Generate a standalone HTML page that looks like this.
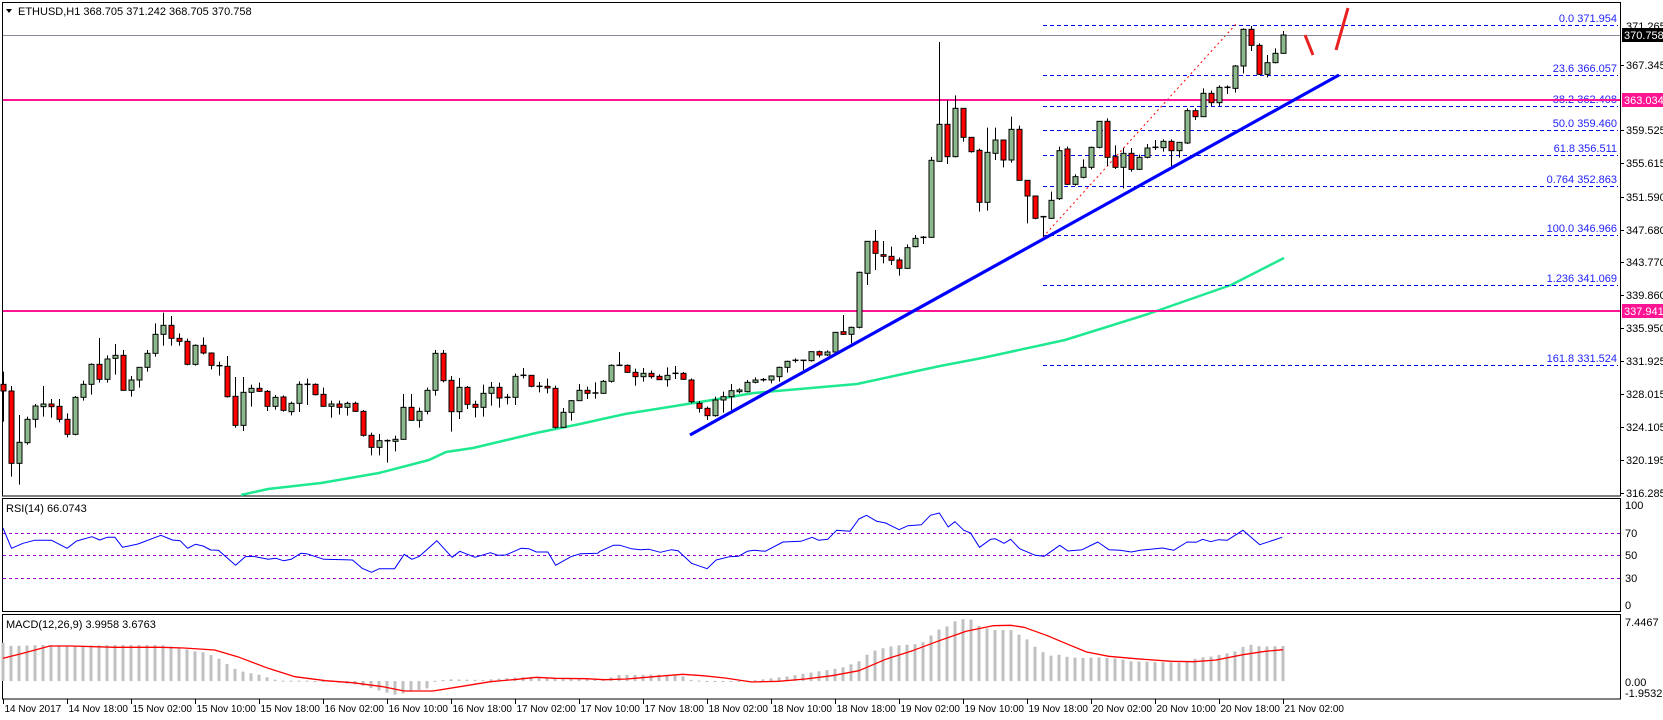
<!DOCTYPE html>
<html><head><meta charset="utf-8">
<style>
html,body{margin:0;padding:0;background:#fff;}
svg{display:block;}
text{font-family:"Liberation Sans",sans-serif;font-size:11px;}
text.t{font-size:10px;}
</style></head>
<body>
<svg id="c" width="1663" height="720" xmlns="http://www.w3.org/2000/svg">
<rect width="1663" height="720" fill="#fff"/>
</svg>
<script>
const S=document.getElementById('c');const NS='http://www.w3.org/2000/svg';
function el(t,a,txt){const e=document.createElementNS(NS,t);for(const k in a)e.setAttribute(k,a[k]);if(txt!==undefined)e.textContent=txt;S.appendChild(e);return e;}
function line(x1,y1,x2,y2,st,w,da){const a={x1,y1,x2,y2,stroke:st,'stroke-width':w||1};if(da)a['stroke-dasharray']=da;return el('line',a);}
function poly(pts,st,w,da){const a={points:pts.map(p=>p[0].toFixed(1)+','+p[1].toFixed(1)).join(' '),fill:'none',stroke:st,'stroke-width':w,'stroke-linejoin':'round'};if(da)a['stroke-dasharray']=da;return el('polyline',a);}
function interp(pts,x){if(x<=pts[0][0])return pts[0][1];for(let i=1;i<pts.length;i++){if(x<=pts[i][0]){const a=pts[i-1],b=pts[i];return a[1]+(b[1]-a[1])*(x-a[0])/(b[0]-a[0]);}}return pts[pts.length-1][1];}

el('rect',{x:2.5,y:2.5,width:1618,height:493.5,fill:'none',stroke:'#000'});
el('rect',{x:2.5,y:498.5,width:1618,height:113,fill:'none',stroke:'#000'});
el('rect',{x:2.5,y:614.5,width:1618,height:84.5,fill:'none',stroke:'#000'});

const maA=[[241,495],[268,489],[321,483],[379,473],[429,460],[446,452],[473,448],[536,433],[580,424],[625,414],[650,410],[700,402],[754,393],[857,384],[940,366],[982,358],[1065,340],[1148,314],[1231,285],[1284,258]];
poly(maA,'#1ee890',2.5);

const fib=[[25,'0.0  371.954'],[75,'23.6  366.057'],[106,'38.2  362.408'],[130,'50.0 359.460'],[155,'61.8  356.511'],[186,'0.764  352.863'],[235,'100.0  346.966'],[285,'1.236 341.069'],[365,'161.8  331.524']];
fib.forEach(f=>{line(1043,f[0]+.5,1618,f[0]+.5,'#0000ff',1,'4,3');el('text',{x:1617,y:f[0]-3,'text-anchor':'end',fill:'#2222ff'},f[1]);});
line(1043,237,1236,24,'#ff0000',1,'2,3');

line(3,100,1620,100,'#ff1493',2);
line(3,311,1620,311,'#ff1493',2);
line(3,35.5,1620,35.5,'#8a8a9a',1);

const A=[[403,423,365,515,'r'],[423,640,408,680,'r'],[577,640,495,704,'g'],[508,578,500,584,'g'],[468,508,462,533,'g'],[462,470,408,500,'g'],[462,470,447,503,'r'],[469,508,447,517,'r'],[508,553,490,562,'r'],[442,553,438,556,'g'],
[403,442,392,452,'g'],[343,403,340,434,'g'],[343,388,264,398,'r'],[327,388,316,398,'g'],[316,325,282,374,'g'],[316,421,300,421,'r'],[390,421,378,440,'g'],[352,390,352,413,'g'],[310,352,300,365,'g'],[253,310,220,320,'g'],
[226,253,188,287,'g'],[226,265,198,287,'r'],[265,274,250,287,'r'],[274,343,266,346,'r'],[286,343,283,347,'g'],[286,309,262,313,'r'],[309,346,307,358,'r'],[347,349,335,377,'x'],[349,440,318,443,'r'],[439,526,381,533,'r'],
[427,526,381,543,'g'],[415,427,404,470,'g'],[415,424,398,426,'r'],[424,469,420,483,'r'],[442,469,435,479,'g'],[441,481,436,485,'r'],[460,485,455,496,'g'],[403,460,394,486,'g'],[403,404,386,465,'x'],[403,434,400,436,'r'],
[433,469,413,470,'r'],[462,469,452,503,'g'],[462,472,452,494,'r'],[460,472,455,497,'g'],[460,484,455,486,'r'],[484,556,480,560,'r'],[556,592,548,616,'r'],[572,592,552,616,'g'],[572,574,568,638,'x'],[568,574,557,604,'g'],
[472,568,432,569,'g'],[472,511,432,512,'r'],[484,511,473,533,'g'],[421,484,413,493,'g'],[310,421,300,437,'g'],[310,392,300,397,'r'],[391,485,378,545,'r'],[412,485,384,507,'g'],[412,463,408,477,'r'],[463,472,452,502,'r'],
[430,472,404,500,'g'],[412,430,396,467,'g'],[412,444,398,473,'r'],[442,444,432,463,'x'],[379,442,371,465,'g'],[376,378,354,385,'x'],[376,409,376,412,'r'],[409,411,396,427,'x'],[409,414,386,430,'r'],[415,532,407,536,'r'],
[487,532,474,533,'g'],[452,487,450,512,'g'],[421,452,402,452,'g'],[421,430,410,447,'r'],[429,431,397,446,'x'],[394,430,390,431,'g'],[346,394,343,398,'g'],[346,348,306,348,'x'],[346,367,343,369,'r'],[367,380,356,407,'r'],
[370,380,354,395,'g'],[370,380,362,386,'r'],[379,389,373,390,'r'],[376,389,352,410,'g'],[370,372,348,387,'x'],[370,388,366,390,'r']];
const B=[[1080,1145,1075,1150,'r'],[1150,1165,1143,1178,'r'],[1165,1187,1160,1200,'r'],[1140,1187,1130,1190,'g'],[1130,1140,1115,1178,'g'],[1112,1130,1092,1170,'g'],[1110,1115,1105,1120,'g'],[1087,1115,1080,1117,'g'],[1080,1087,1072,1090,'g'],[1079,1081,1074,1085,'x'],
[1068,1080,1066,1090,'g'],[1042,1070,1040,1085,'g'],[1024,1042,1022,1058,'g'],[1021,1023,1015,1028,'x'],[1021,1023,1020,1050,'x'],[995,1022,995,1025,'g'],[995,1005,992,1012,'r'],[996,1005,991,1008,'g'],[937,996,937,1000,'g'],[935,943,885,945,'r'],
[922,943,920,970,'g'],[757,922,755,925,'g'],[664,760,664,795,'g'],[664,700,630,750,'r'],[704,709,663,730,'r'],[709,721,680,735,'r'],[720,745,713,767,'r'],[683,745,673,746,'g'],[655,680,645,682,'g'],[652,654,648,672,'x'],
[421,652,411,652,'g'],[313,424,66,424,'g'],[313,410,240,432,'r'],[265,410,226,412,'g'],[265,352,265,365,'r'],[352,395,352,398,'r'],[391,547,386,575,'r'],[397,547,323,572,'g'],[360,400,323,420,'g'],[360,420,360,442,'r'],
[328,420,290,428,'g'],[328,481,317,481,'r'],[481,528,481,610,'r'],[528,595,528,598,'r'],[590,595,590,650,'x'],[541,595,515,597,'g'],[392,536,380,540,'g'],[387,493,380,495,'r'],[470,493,463,497,'g'],[442,472,418,475,'g'],
[382,442,380,448,'g'],[304,382,304,385,'g'],[304,412,295,438,'r'],[410,442,376,447,'r'],[400,442,384,505,'g'],[400,448,384,455,'r'],[412,448,404,450,'g'],[384,412,372,415,'g'],[382,384,360,390,'x'],[364,383,358,395,'g'],
[364,392,358,440,'r'],[367,392,367,413,'g'],[272,369,265,372,'g'],[272,290,265,300,'r'],[220,290,205,290,'g'],[220,248,212,258,'r'],[202,248,196,258,'g'],[202,205,196,222,'x'],[138,205,135,218,'g'],[28,138,25,160,'g'],
[28,76,18,93,'r'],[76,163,70,165,'r'],[128,163,105,172,'g'],[100,128,85,130,'g'],[45,100,33,100,'g']];
function drawC(i,d,y0){const x=3+8*i+.5;const bt=y0+d[0]/3,bb=y0+d[1]/3,wt=y0+d[2]/3,wb=y0+d[3]/3;
 line(x,wt,x,wb,'#000',1);
 if(d[4]==='x'){line(x-3,bt,x+3,bt,'#000',1.5);}
 else el('rect',{x:x-2.5,y:bt,width:5,height:Math.max(1,bb-bt),fill:d[4]==='g'?'#8cba8c':'#ff0000',stroke:'#000','stroke-width':1});}
A.forEach((d,i)=>drawC(i,d,250));
B.forEach((d,i)=>drawC(86+i,d,20));

line(690,435,1339,75,'#0000ff',3.2);
line(1305,35,1313,55,'#e82020',3);
line(1336,50,1348,8,'#e82020',3);

el('path',{d:'M6 9 L12 9 L9 13 Z',fill:'#000'});
el('text',{x:18,y:15,fill:'#000'},'ETHUSD,H1  368.705 371.242 368.705 370.758');

[[65,'367.345'],[130,'359.525'],[163,'355.615'],[197,'351.590'],[230,'347.680'],[262,'343.770'],[295,'339.860'],[328,'335.950'],[361,'331.925'],[394,'328.015'],[427,'324.105'],[460,'320.195'],[493,'316.285']].forEach(t=>{line(1620,t[0]+.5,1624,t[0]+.5,'#000');el('text',{x:1626,y:t[0]+4,fill:'#000'},t[1]);});
el('text',{x:1626,y:30,fill:'#000'},'371.265');
el('rect',{x:1622,y:28,width:41,height:14,fill:'#000'});el('text',{x:1624,y:39,fill:'#fff'},'370.758');
el('rect',{x:1622,y:93,width:41,height:14,fill:'#ff1493'});el('text',{x:1624,y:104,fill:'#fff'},'363.034');
el('rect',{x:1622,y:304,width:41,height:14,fill:'#ff1493'});el('text',{x:1624,y:315,fill:'#fff'},'337.941');

[[533,'70'],[555,'50'],[578,'30']].forEach(t=>{line(3,t[0]+.5,1620,t[0]+.5,'#9900cc',1,'3,3');el('text',{x:1625,y:t[0]+4,fill:'#000'},t[1]);});
el('text',{x:1625,y:509,fill:'#000'},'100');el('text',{x:1625,y:609,fill:'#000'},'0');
el('text',{x:6,y:512,fill:'#000'},'RSI(14) 66.0743');
const r1=[[8,205],[30,265],[60,250],[90,241],[135,241],[175,265],[200,243],[240,230],[260,240],[280,232],[300,232],[320,262],[360,252],[420,226],[450,240],[470,242],[490,265],[510,253],[530,258],[550,270],[570,271],[615,316],[640,290],[660,289],[700,298],[720,295],[740,302],[760,298],[785,280],[800,281],[845,298],[900,299],[920,300],[945,325],[970,337],[990,326],[1030,326],[1055,283],[1075,298],[1095,289],[1140,242],[1180,292],[1200,274],[1240,292],[1280,278],[1300,286],[1320,285],[1360,265],[1380,266],[1400,276],[1430,276],[1450,316],[1490,290],[1515,281],[1560,280]].map(p=>[p[0]/2.61,460+p[1]/3]);
const r2=[[0,160],[30,142],[45,142],[70,152],[90,155],[110,154],[135,163],[160,155],[175,158],[205,196],[240,212],[260,186],[290,176],[310,175],[330,160],[345,157],[370,160],[410,132],[450,130],[475,118],[490,127],[510,124],[530,97],[560,100],[580,63],[597,52],[620,70],[640,75],[670,95],[690,83],[720,80],[740,52],[760,45],[780,87],[795,71],[815,97],[830,105],[850,148],[875,124],[885,122],[905,136],[920,124],[940,152],[975,172],[995,175],[1030,142],[1048,159],[1080,155],[1115,132],[1140,155],[1165,157],[1190,162],[1210,157],[1260,150],[1285,157],[1315,132],[1335,133],[1350,124],[1368,131],[1385,125],[1405,127],[1440,97],[1478,140],[1528,118]].map(p=>[600+p[0]/2.24,498+p[1]/3]);
poly([[3,r1[0][1]]].concat(r1).concat(r2),'#0000ff',1);

const h1=[[8,548],[30,558],[110,555],[200,557],[300,555],[420,555],[480,565],[500,573],[530,577],[550,585],[570,595],[590,610],[615,628],[640,637],[680,645],[700,653],[720,660],[740,662],[800,662],[860,665],[900,670],[940,675],[970,685],[1000,695],[1035,705],[1070,695],[1115,685],[1130,663],[1170,658],[1260,660],[1350,652],[1400,650],[1450,655],[1560,658]].map(p=>[p[0]/2.61,460+p[1]/3]);
const h2=[[10,545],[40,531],[130,530],[180,531],[200,545],[240,550],[310,550],[360,545],[420,535],[480,522],[540,510],[580,490],[600,468],[620,455],[660,443],[720,437],[740,414],[760,394],[780,384],[795,370],[815,363],[835,365],[850,385],[880,396],[900,396],[920,396],[940,411],[960,427],[975,447],[995,465],[1010,473],[1030,470],[1050,478],[1080,480],[1120,478],[1160,482],[1190,490],[1240,492],[1300,494],[1320,490],[1340,478],[1360,478],[1390,470],[1420,462],[1440,447],[1460,440],[1480,446],[1530,444]].map(p=>[600+p[0]/2.24,498+p[1]/3]);
const hist=h1.concat(h2);const z=681;
for(let i=0;i<=160;i++){const x=3+8*i;const y=interp(hist,x);el('rect',{x:x-1.5,y:Math.min(y,z),width:3,height:Math.max(1,Math.abs(y-z)),fill:'#c0c0c0'});}
const s1=[[8,595],[60,580],[130,558],[185,558],[300,562],[420,562],[480,564],[560,570],[620,590],[700,625],[770,650],[850,662],[920,668],[1000,680],[1055,693],[1130,693],[1200,680],[1280,665],[1350,658],[1400,652],[1450,655],[1530,656]].map(p=>[p[0]/2.61,460+p[1]/3]);
const s2=[[10,545],[60,543],[130,535],[185,529],[230,533],[280,540],[340,552],[400,550],[460,543],[520,533],[580,518],[640,484],[700,458],[760,428],[820,400],[880,383],[920,382],[950,388],[1000,412],[1050,440],[1090,462],[1140,475],[1200,482],[1280,490],[1330,491],[1380,486],[1440,470],[1490,460],[1530,455]].map(p=>[600+p[0]/2.24,498+p[1]/3]);
poly([[3,s1[0][1]]].concat(s1).concat(s2),'#ff0000',1.3);
el('text',{x:6,y:628,fill:'#000'},'MACD(12,26,9) 3.9958 3.6763');
el('text',{x:1625,y:626,fill:'#000'},'7.4467');el('text',{x:1625,y:686,fill:'#000'},'0.00');el('text',{x:1625,y:697,fill:'#000'},'-1.9532');

const tl=['14 Nov 2017','14 Nov 18:00','15 Nov 02:00','15 Nov 10:00','15 Nov 18:00','16 Nov 02:00','16 Nov 10:00','16 Nov 18:00','17 Nov 02:00','17 Nov 10:00','17 Nov 18:00','18 Nov 02:00','18 Nov 10:00','18 Nov 18:00','19 Nov 02:00','19 Nov 10:00','19 Nov 18:00','20 Nov 02:00','20 Nov 10:00','20 Nov 18:00','21 Nov 02:00'];
tl.forEach((t,k)=>{const x=3+64*k+.5;line(x,699,x,704,'#000');el('text',{x:x+1,y:712,fill:'#000','class':'t'},t);});
</script>
</body></html>
